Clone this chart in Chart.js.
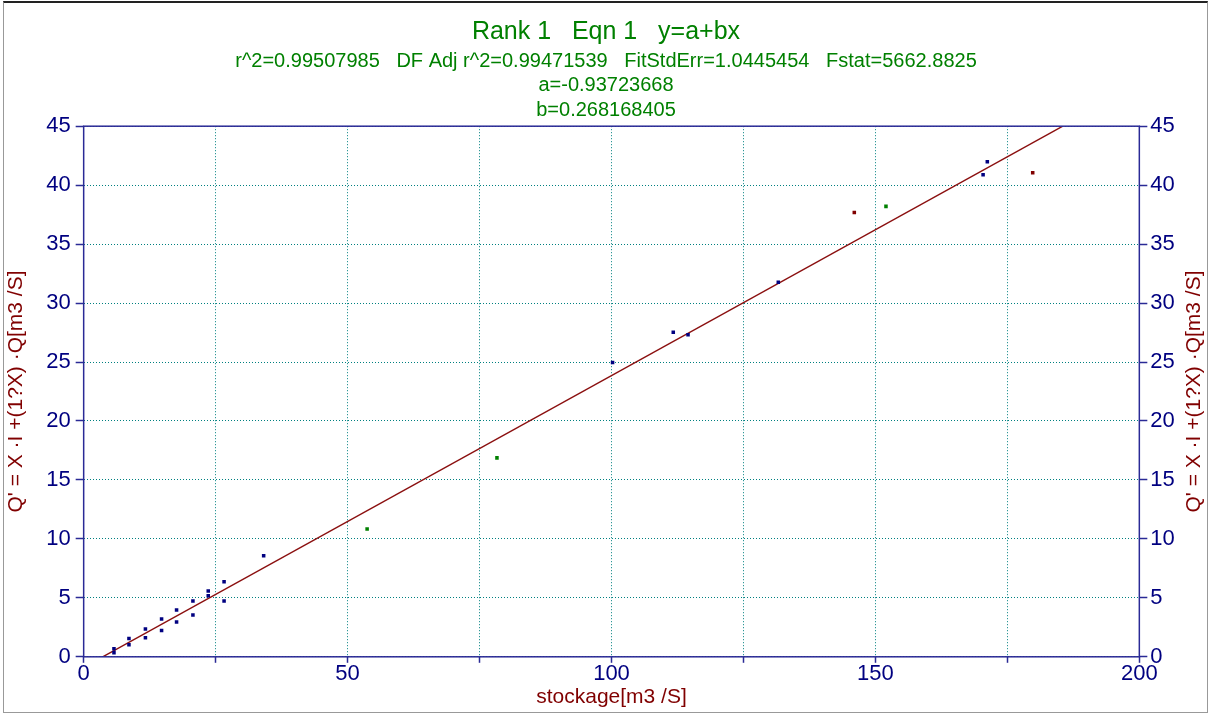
<!DOCTYPE html>
<html>
<head>
<meta charset="utf-8">
<script src="https://cdn.jsdelivr.net/npm/chart.js@4/dist/chart.umd.min.js"></script>
<style>
  html, body { margin: 0; padding: 0; background: #fff; }
  #wrap { position: relative; width: 1212px; height: 716px; }
  #frame { position: absolute; left: 3px; top: 1px; width: 1203px; height: 709px;
           border: 1px solid #999; border-top: 2px solid #222; pointer-events: none; }
</style>
</head>
<body>
<div id="wrap">
  <canvas id="chart" width="1212" height="716"></canvas>
  <div id="frame"></div>
</div>
<script>
// points, grouped by marker colour
var navyX = [5.74, 5.74, 8.58, 8.58, 11.7, 11.7, 14.76, 14.76, 17.6, 17.6, 20.7, 20.7, 23.6, 23.6, 26.6, 26.6, 34.1, 100.2, 111.7, 114.5, 131.6, 170.4, 171.2];
var navyY = [0.68, 0.34, 1.55, 1.02, 2.35, 1.61, 3.2, 2.23, 3.96, 2.95, 4.73, 3.54, 5.58, 5.18, 6.37, 4.73, 8.57, 24.96, 27.53, 27.31, 31.77, 40.89, 41.99];
var greenX = [53.7, 78.3, 152.0];
var greenY = [10.84, 16.87, 38.2];
var redX = [146.0, 179.8];
var redY = [37.69, 41.06];
// fitted line as drawn (end points where it meets the frame)
var fitX = [3.6, 185.5];
var fitY = [0, 45];

var xTicks = [0, 25, 50, 75, 100, 125, 150, 175, 200];
var yTicks = [0, 5, 10, 15, 20, 25, 30, 35, 40, 45];

var titleText = "Rank 1   Eqn 1   y=a+bx";
var subLines = [
  "r^2=0.99507985   DF Adj r^2=0.99471539   FitStdErr=1.0445454   Fstat=5662.8825",
  "a=-0.93723668",
  "b=0.268168405"
];
var yTitle = "Q' = X \u00b7I +(1?X) \u00b7Q[m3 /S]";
var xTitle = "stockage[m3 /S]";

var navy = "#000080";
var axisBlue = "#2a2a96";
var green = "#008000";
var darkRed = "#800000";
var teal = "#008080";
var font = "'Liberation Sans', Arial, sans-serif";

function pts(xs, ys) {
  return xs.map(function (x, i) { return { x: x, y: ys[i] }; });
}

function scatterSet(xs, ys, color) {
  return {
    type: "scatter",
    data: pts(xs, ys),
    pointStyle: "rect",
    pointRadius: 2.5,
    pointHoverRadius: 2.5,
    backgroundColor: color,
    borderColor: color,
    borderWidth: 0
  };
}

// frame round the plot, and the right-hand axis title read bottom to top
var framePlugin = {
  id: "frame",
  afterDatasetsDraw: function (chart) {
    var ctx = chart.ctx;
    var a = chart.chartArea;
    ctx.save();
    ctx.strokeStyle = axisBlue;
    ctx.lineWidth = 1.5;
    ctx.strokeRect(a.left, a.top, a.right - a.left, a.bottom - a.top);
    var r = chart.scales.y2;
    ctx.translate(r.right - 14, (a.top + a.bottom) / 2);
    ctx.rotate(-Math.PI / 2);
    ctx.fillStyle = darkRed;
    ctx.font = "21px " + font;
    ctx.textAlign = "center";
    ctx.textBaseline = "middle";
    ctx.fillText(yTitle, 0, 0);
    ctx.restore();
  }
};

var tickFont = { family: font, size: 22, lineHeight: 1 };
var axisTitleFont = { family: font, size: 21, lineHeight: 1.2 };

function yAxis(pos) {
  return {
    type: "linear",
    position: pos,
    min: 0,
    max: 45,
    afterBuildTicks: function (s) { s.ticks = yTicks.map(function (v) { return { value: v }; }); },
    ticks: { color: navy, font: tickFont, padding: pos === "left" ? 5 : 3 },
    grid: {
      drawOnChartArea: pos === "left",
      color: teal,
      tickColor: axisBlue,
      tickLength: 8,
      tickWidth: 1.5,
      tickBorderDash: []
    },
    border: { display: false, dash: [1, 2] },
    title: {
      display: true,
      text: yTitle,
      color: pos === "left" ? darkRed : "rgba(0,0,0,0)",
      font: axisTitleFont,
      padding: pos === "left" ? { top: 0, bottom: 12 } : { top: 5, bottom: 0 }
    }
  };
}

new Chart(document.getElementById("chart"), {
  type: "scatter",
  data: {
    datasets: [
      {
        type: "line",
        data: pts(fitX, fitY),
        borderColor: "#8b1010",
        borderWidth: 1.5,
        pointRadius: 0,
        fill: false,
        order: 2
      },
      scatterSet(navyX, navyY, navy),
      scatterSet(greenX, greenY, green),
      scatterSet(redX, redY, darkRed)
    ]
  },
  options: {
    responsive: false,
    animation: false,
    layout: { padding: { left: 4, right: 4, top: 0, bottom: 6 } },
    plugins: {
      legend: { display: false },
      tooltip: { enabled: false },
      title: {
        display: true,
        text: titleText,
        color: green,
        font: { family: font, size: 25, weight: "normal", lineHeight: 1.2 },
        padding: { top: 17, bottom: 2 }
      },
      subtitle: {
        display: true,
        text: subLines,
        color: green,
        font: { family: font, size: 20, weight: "normal", lineHeight: 1.22 },
        padding: { top: 0, bottom: 4 }
      }
    },
    scales: {
      x: {
        type: "linear",
        min: 0,
        max: 200,
        afterBuildTicks: function (s) { s.ticks = xTicks.map(function (v) { return { value: v }; }); },
        ticks: {
          color: navy,
          font: tickFont,
          padding: 0,
          maxRotation: 0,
          callback: function (v) { return v % 50 === 0 ? v : ""; }
        },
        grid: {
          color: teal,
          tickColor: axisBlue,
          tickLength: 6,
          tickWidth: 1.5,
          tickBorderDash: []
        },
        border: { display: false, dash: [1, 2] },
        title: { display: true, text: xTitle, color: darkRed, font: axisTitleFont, padding: { top: 0, bottom: 0 } }
      },
      y: yAxis("left"),
      y2: yAxis("right")
    }
  },
  plugins: [framePlugin]
});
</script>
</body>
</html>
